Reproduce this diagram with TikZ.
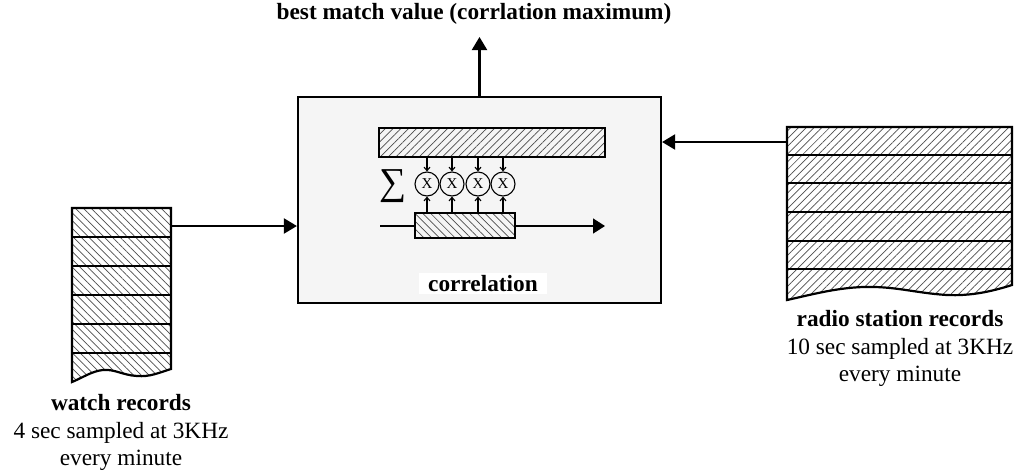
\documentclass[tikz,border=0pt]{standalone}
\usepackage{fontspec}
\setmainfont{Liberation Serif}
\usetikzlibrary{arrows.meta,patterns.meta}
\begin{document}
\begin{tikzpicture}[x=1pt,y=-1pt,
  hatchA/.style={pattern={Lines[angle=45,distance=5.5pt,line width=0.7pt]},pattern color=black!70},
  hatchB/.style={pattern={Lines[angle=-45,distance=5.5pt,line width=0.7pt]},pattern color=black!70},
  border/.style={line width=2.2pt},
  bigarrow/.style={line width=2.2pt,-{Triangle[length=13pt,width=15pt]}},
  smallarrow/.style={line width=1.1pt,-{Straight Barb[length=3.5pt,width=6pt]}},
  mult/.style={circle,draw,line width=1.1pt,minimum size=24pt,inner sep=0pt,font=\fontsize{15}{15}\selectfont},
  lbl/.style={font=\fontsize{23.3}{27.5}\selectfont,align=center}]
\useasboundingbox (0,0) rectangle (1020,475);

% main correlation box
\node[draw,border,fill=black!4,minimum width=363pt,minimum height=206pt,inner sep=0pt] (box) at (479.5,200) {};

% output
\node[lbl,font=\fontsize{23.3}{24.5}\selectfont\bfseries] (out) at (474,14) {best match value (corrlation maximum)};
\coordinate (outtip) at (479.5,37);
\draw[bigarrow] (box.north) -- (outtip);

% top (radio) bar
\node[draw,line width=1.8pt,hatchA,minimum width=226pt,minimum height=29pt,inner sep=0pt] (topbar) at (492,142.5) {};
% bottom (watch) bar
\node[draw,line width=1.8pt,hatchB,minimum width=100pt,minimum height=25pt,inner sep=0pt] (botbar) at (465,225.5) {};

% multipliers
\node[mult] (m1) at (427,184) {X};
\node[mult] (m2) at (452,184) {X};
\node[mult] (m3) at (478,184) {X};
\node[mult] (m4) at (503,184) {X};
\foreach \m in {m1,m2,m3,m4}{
  \draw[smallarrow] (\m |- topbar.south) -- (\m.north);
  \draw[smallarrow] (\m |- botbar.north) -- (\m.south);
}

% sigma
\node (sig) at (393,186) {\fontsize{38}{38}\selectfont ∑};

% sliding line
\coordinate (ls) at (380,226);
\coordinate (le) at (605,226);
\draw[line width=1.4pt] (ls) -- (botbar.west |- ls);
\draw[line width=1.4pt,-{Triangle[length=12pt,width=15pt]}] (botbar.east |- ls) -- (le);

% correlation label
\node[fill=white,minimum width=128pt,minimum height=21pt,inner sep=0pt,font=\fontsize{23.3}{24}\selectfont\bfseries] (corrlbl) at (483,283.5) {correlation};

% watch records stack
\filldraw[border,hatchB] (72,208) -- (171,208) -- (171,369)
  .. controls (158,373) and (150,377) .. (137,376)
  .. controls (122,375) and (115,369) .. (103,370)
  .. controls (92,371) and (82,378) .. (72,382) -- cycle;
\foreach \y in {237,266,295,324,353}{\draw[border] (72,\y) -- (171,\y);}
\coordinate (wout) at (171,226);
\draw[bigarrow] (wout) -- (wout -| box.west);
\node[lbl] (wlbl) at (121,432.5) {\textbf{watch records}\\4 sec sampled at 3KHz\\every minute};

% radio station stack
\filldraw[border,hatchA] (787,127) -- (1012,127) -- (1012,285)
  .. controls (990,292) and (970,296) .. (947,295)
  .. controls (915,293) and (895,286) .. (863,287)
  .. controls (835,288) and (810,295) .. (787,300) -- cycle;
\foreach \y in {155,183,212,241,269}{\draw[border] (787,\y) -- (1012,\y);}
\coordinate (rout) at (787,142);
\draw[bigarrow] (rout) -- (rout -| box.east);
\node[lbl] (rlbl) at (900,348.5) {\textbf{radio station records}\\10 sec sampled at 3KHz\\every minute};
\end{tikzpicture}
\end{document}
